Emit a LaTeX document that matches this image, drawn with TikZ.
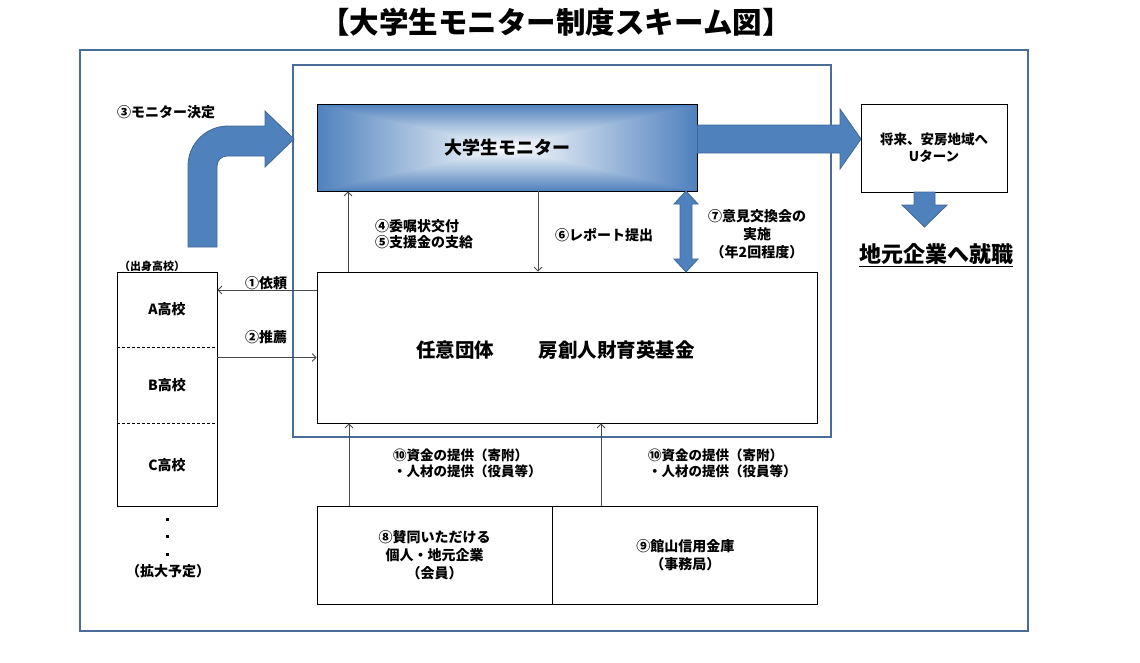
\documentclass[tikz,border=0pt]{standalone}
\usepackage{fontspec}
\setmainfont{Noto Sans CJK JP}
\usetikzlibrary{arrows.meta,positioning}

\definecolor{frameblue}{HTML}{4A6C9B}
\definecolor{monblue}{HTML}{4F81BD}
\definecolor{arrowline}{HTML}{3E6797}
\definecolor{linkgray}{HTML}{4A4A4A}

\newcommand{\jpfont}[2]{\fontsize{#1}{#2}\selectfont\bfseries}

\begin{document}
\begin{tikzpicture}[x=1pt, y=-1pt]
    \tikzstyle{frame}=[draw=frameblue, line width=2.5pt, inner sep=0pt]
    \tikzstyle{plainbox}=[draw=black, line width=0.8pt, inner sep=0pt]
    \tikzstyle{lbl}=[inner sep=0pt, font=\jpfont{14}{16}]
    \tikzstyle{link}=[draw=linkgray, line width=0.8pt, -{Straight Barb[length=4pt, width=8pt]}]
    \tikzstyle{blockarrow}=[fill=monblue, draw=arrowline, line width=0.8pt]

    \useasboundingbox (0,0) rectangle (1140,662);

    % Title
    \node[font=\jpfont{29.5}{32}] (title) at (556,22) {【大学生モニター制度スキーム図】};

    % Frames
    \node[frame, minimum width=948, minimum height=581] (outer) at (554,340.5) {};
    \node[frame, minimum width=538, minimum height=372] (inner) at (562,251) {};

    % Gradient of the monitor box (halves, then side triangles on top)
    \coordinate (mc) at (507,147.5);
    \shade[top color=monblue, bottom color=white] (317,104) rectangle (697,147.5);
    \shade[top color=white, bottom color=monblue] (317,147.5) rectangle (697,191);
    \shade[left color=monblue, right color=white] (317,104) -- (317,191) -- (mc) -- cycle;
    \shade[left color=white, right color=monblue] (697,104) -- (697,191) -- (mc) -- cycle;
    \node[plainbox, minimum width=380, minimum height=87, font=\jpfont{18}{20}] (monitor) at (mc) {大学生モニター};

    % Monitor -> U-turn
    \filldraw[blockarrow] (697.5,125) -- (840,125) -- (840,109) -- (861,139) -- (840,169) -- (840,153) -- (697.5,153) -- cycle;
    \node[plainbox, minimum width=146, minimum height=88, align=center, font=\jpfont{13.5}{17}] (uturn) at (934,148) {将来、安房地域へ\\Uターン};
    \filldraw[blockarrow] (914,192) -- (935,192) -- (935,205) -- (947,205) -- (924.5,227) -- (902,205) -- (914,205) -- cycle;
    \node[font=\jpfont{22}{24}] (job) at (936,255) {\underline{地元企業へ就職}};

    % Decided monitors
    \filldraw[blockarrow] (188,247) -- (188,166) arc[start angle=180, end angle=270, radius=40] -- (265,126) -- (265,111) -- (294,139) -- (265,167) -- (265,156) -- (227,156) arc[start angle=270, end angle=180, radius=10] -- (217,247) -- cycle;
    \node[lbl] (decide) at (166,112) {③モニター決定};

    % High schools
    \node[font=\jpfont{11}{12}, inner sep=0pt] (schoollabel) at (152,266) {（出身高校）};
    \node[plainbox, minimum width=100, minimum height=234] (school) at (167,389) {};
    \node[lbl, minimum width=100, minimum height=75, anchor=north] (highA) at (school.north) {A高校};
    \node[lbl, minimum width=100, minimum height=76, below=0pt of highA] (highB) {B高校};
    \node[lbl, minimum width=100, minimum height=83, below=0pt of highB] (highC) {C高校};
    \draw[densely dashed, line width=0.6pt] (highA.south west) -- (highA.south east);
    \draw[densely dashed, line width=0.6pt] (highB.south west) -- (highB.south east);
    \foreach \y in {516,533,551}
        \fill (165.5,{\y+1.5}) rectangle ++(3,3);
    \node[lbl] (expand) at (168,571) {（拡大予定）};

    % Foundation
    \node[plainbox, minimum width=500, minimum height=151] (fund) at (567,347.5) {};
    \node[font=\jpfont{19.5}{22}, inner sep=0pt] (fundname) at (555.5,350) {任意団体　\hspace{1.3em}房創人財育英基金};

    \coordinate (y1) at (0,290);
    \coordinate (y2) at (0,357.5);
    \draw[link] (fund.west |- y1) -- (school.east |- y1);
    \draw[link] (school.east |- y2) -- (fund.west |- y2);
    \node[lbl] (req) at (266,283) {①依頼};
    \node[lbl] (rec) at (266,337) {②推薦};

    \coordinate (x4) at (348,0);
    \coordinate (x6) at (538,0);
    \draw[link] (fund.north -| x4) -- (monitor.south -| x4);
    \draw[link] (monitor.south -| x6) -- (fund.north -| x6);
    \node[lbl, align=left, anchor=west] (grant) at (375,234) {④委嘱状交付\\⑤支援金の支給};
    \node[lbl] (report) at (604,235) {⑥レポート提出};

    % Exchange meeting
    \filldraw[blockarrow] (686,191) -- (698,204) -- (692,204) -- (692,259) -- (698,259) -- (686,272) -- (674,259) -- (680,259) -- (680,204) -- (674,204) -- cycle;
    \node[lbl, align=center, font=\jpfont{14}{18}] (meeting) at (757,234) {⑦意見交換会の\\実施\\（年2回程度）};

    % Supporters
    \node[plainbox, minimum width=235, minimum height=98, align=center, font=\jpfont{14}{18}] (members) at (434.5,555) {⑧賛同いただける\\個人・地元企業\\（会員）};
    \node[plainbox, minimum width=265, minimum height=98, align=center, font=\jpfont{14}{18}, right=0pt of members] (bank) {⑨館山信用金庫\\（事務局）};

    \coordinate (x10a) at (349,0);
    \coordinate (x10b) at (601,0);
    \draw[link] (members.north -| x10a) -- (fund.south -| x10a);
    \draw[link] (bank.north -| x10b) -- (fund.south -| x10b);
    \node[lbl, align=left, anchor=north west, font=\jpfont{13.5}{15.5}] (fundsA) at (393,449) {⑩資金の提供（寄附）\\・人材の提供（役員等）};
    \node[lbl, align=left, anchor=north west, font=\jpfont{13.5}{15.5}] (fundsB) at (648,449) {⑩資金の提供（寄附）\\・人材の提供（役員等）};
\end{tikzpicture}
\end{document}
